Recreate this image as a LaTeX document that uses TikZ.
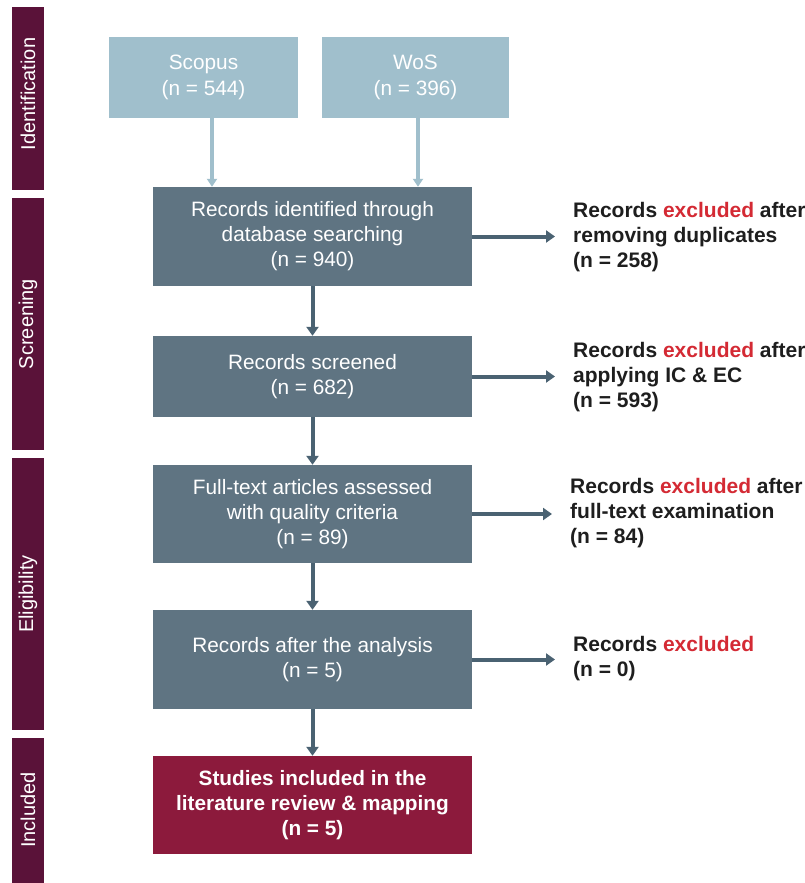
\documentclass[tikz,border=0pt]{standalone}
\usepackage{fontspec}
\setmainfont{Liberation Sans}
\usetikzlibrary{arrows.meta}
\definecolor{lightbox}{HTML}{A0BFCC}
\definecolor{darkbox}{HTML}{5F7482}
\definecolor{arrowcol}{HTML}{4A6272}
\definecolor{phasecol}{HTML}{5A1239}
\definecolor{finalbox}{HTML}{8C1A3C}
\definecolor{exred}{HTML}{D42A34}
\definecolor{textdark}{HTML}{1E1E1E}
\tikzset{
  boxtext/.style={font=\fontsize{20.8}{25}\selectfont, text=white, align=center, inner sep=0pt},
  srcbox/.style={boxtext, fill=lightbox, minimum height=81pt, font=\fontsize{20.8}{26}\selectfont},
  stagebox/.style={boxtext, fill=darkbox, minimum width=319pt},
  finalstage/.style={boxtext, fill=finalbox, minimum width=319pt, font=\fontsize{20.8}{25}\selectfont\bfseries},
  phase/.style={fill=phasecol, draw=none},
  phaselabel/.style={text=white, rotate=90, font=\fontsize{20}{22}\selectfont, inner sep=0pt},
  exnote/.style={anchor=west, align=left, inner sep=0pt, text=textdark, font=\fontsize{21}{25}\selectfont\bfseries},
  flow/.style={draw=arrowcol, line width=4pt, -{Triangle[width=12pt,length=9pt]}},
  srcflow/.style={draw=lightbox, line width=3.5pt, -{Triangle[width=10pt,length=8pt]}}
}
\newcommand{\excl}{\textcolor{exred}{excluded}}
\begin{document}
\begin{tikzpicture}[x=1pt,y=-1pt]
  \useasboundingbox[fill=white] (0,0) rectangle (804,883);

  % phase bars on the left
  \fill[phase] (12,7) rectangle (44,190);
  \fill[phase] (12,198) rectangle (44,450);
  \fill[phase] (12,458) rectangle (44,730);
  \fill[phase] (12,738) rectangle (44,883);
  \node[phaselabel] (pid) at (28,94) {Identification};
  \node[phaselabel] (psc) at (28,324) {Screening};
  \node[phaselabel] (pel) at (28,594) {Eligibility};
  \node[phaselabel] (pin) at (28,810) {Included};

  % sources
  \node[srcbox, minimum width=189pt] (scopus) at (203.5,77.5) {Scopus\\(n = 544)};
  \node[srcbox, minimum width=187pt] (wos) at (415.5,77.5) {WoS\\(n = 396)};

  % main stages
  \node[stagebox, minimum height=99pt] (s1) at (312.5,236.5) {Records identified through\\database searching\\(n = 940)};
  \node[stagebox, minimum height=81pt] (s2) at (312.5,376.5) {Records screened\\(n = 682)};
  \node[stagebox, minimum height=98pt] (s3) at (312.5,514) {Full-text articles assessed\\with quality criteria\\(n = 89)};
  \node[stagebox, minimum height=99pt] (s4) at (312.5,659.5) {Records after the analysis\\(n = 5)};
  \node[finalstage, minimum height=98pt] (s5) at (312.5,805) {Studies included in the\\literature review \& mapping\\(n = 5)};

  % exclusion notes
  \node[exnote] (e1) at (573,237) {Records \excl{} after\\removing duplicates\\(n = 258)};
  \node[exnote] (e2) at (573,377) {Records \excl{} after\\applying IC \& EC\\(n = 593)};
  \node[exnote] (e3) at (570,513) {Records \excl{} after\\full-text examination\\(n = 84)};
  \node[exnote] (e4) at (573,659) {Records \excl{}\\(n = 0)};

  % connectors
  \draw[srcflow] ([xshift=8.5pt]scopus.south) -- ([xshift=8.5pt]scopus.south |- s1.north);
  \draw[srcflow] ([xshift=2.5pt]wos.south) -- ([xshift=2.5pt]wos.south |- s1.north);
  \draw[flow] (s1) -- (s2);
  \draw[flow] (s2) -- (s3);
  \draw[flow] (s3) -- (s4);
  \draw[flow] (s4) -- (s5);
  \draw[flow, shorten >=18pt] (s1.east) -- (s1.east -| e1.west);
  \draw[flow, shorten >=18pt] (s2.east) -- (s2.east -| e2.west);
  \draw[flow, shorten >=18pt] (s3.east) -- (s3.east -| e3.west);
  \draw[flow, shorten >=18pt] (s4.east) -- (s4.east -| e4.west);
\end{tikzpicture}
\end{document}
